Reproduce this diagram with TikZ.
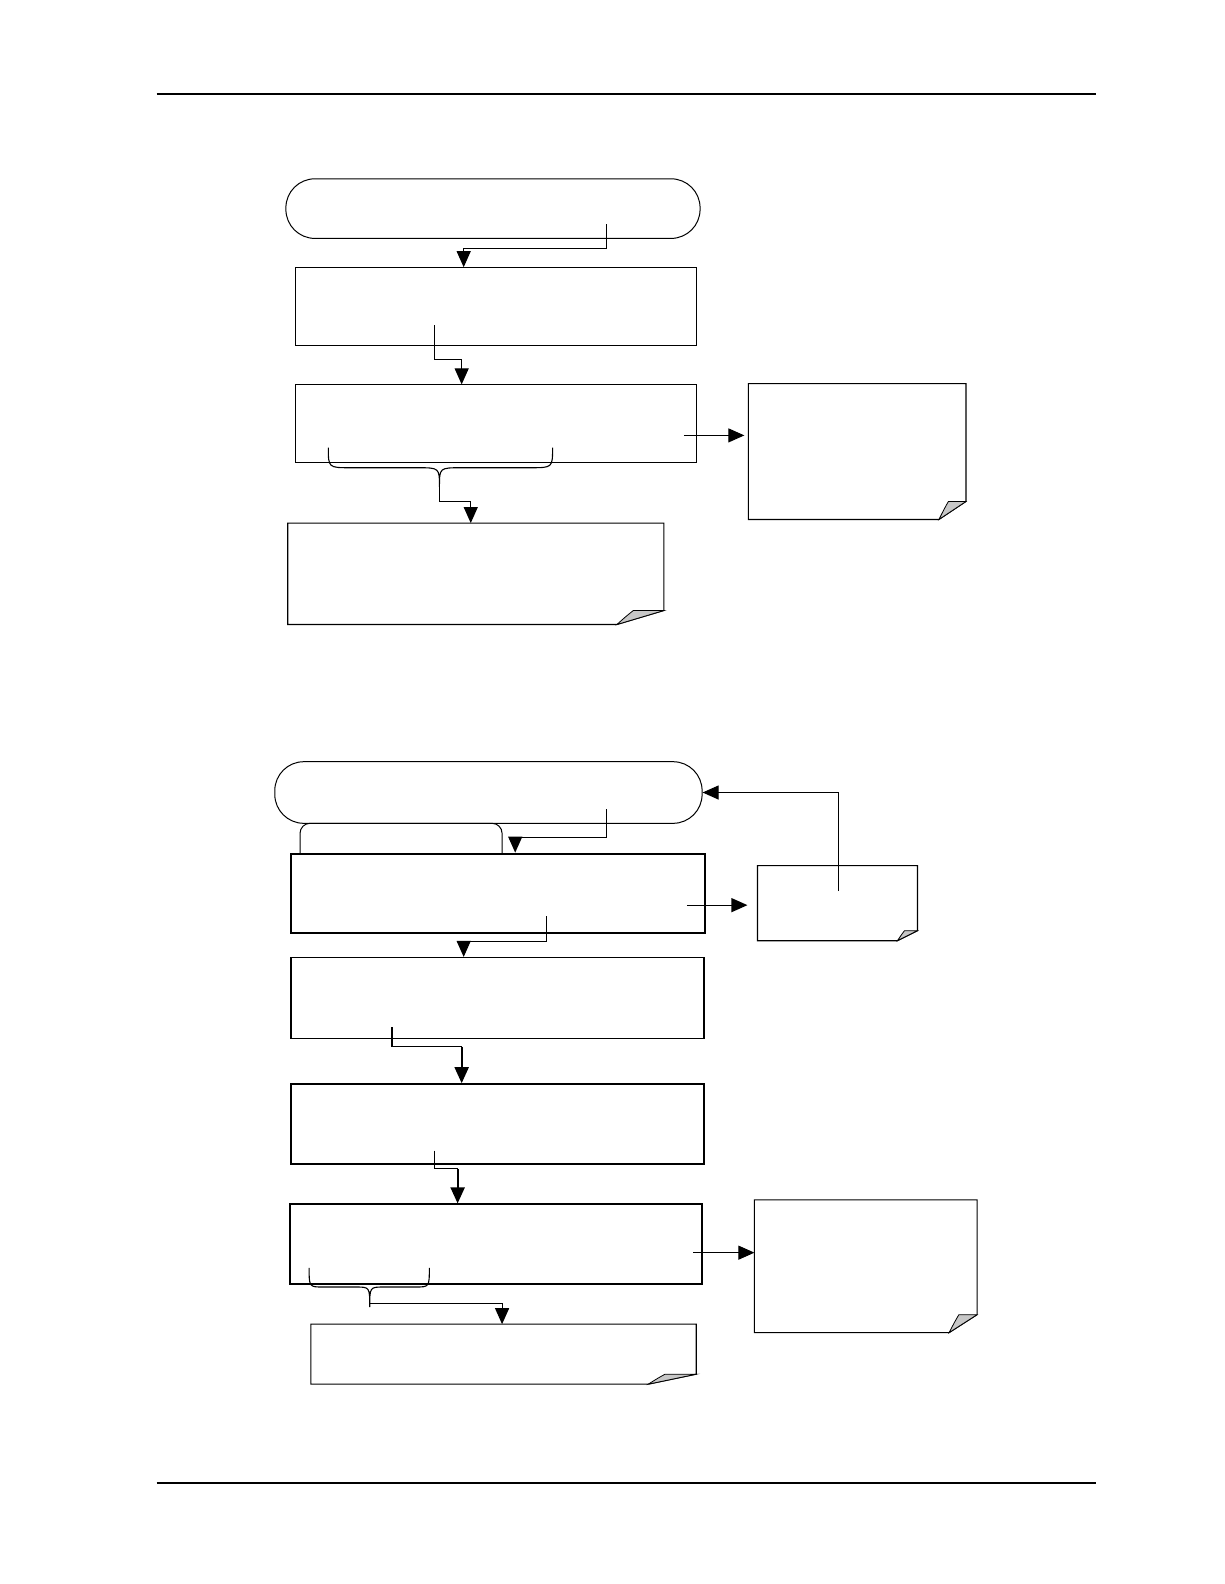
\documentclass[tikz,border=0pt]{standalone}
\usetikzlibrary{arrows.meta,fit}
\tikzset{
  boxthin/.style={draw, line width=1pt, inner sep=0pt},
  boxthick/.style={draw, line width=2pt, inner sep=0pt},
  boxmid/.style={draw, line width=1.5pt, inner sep=0pt},
  termbox/.style={draw, line width=1pt, inner sep=0pt, rounded corners=29pt},
  holder/.style={inner sep=0pt},
  noteline/.style={draw, line width=1.1pt},
  fold/.style={draw, line width=0.8pt, fill=black!22},
  arr/.style={draw, line width=1.1pt, -{Triangle[length=16pt,width=14pt]}},
  arrthick/.style={draw, line width=2pt, -{Triangle[length=16pt,width=14pt]}},
  conn/.style={draw, line width=1.1pt},
}
\newcommand\papernote[3]{%
  \draw[noteline] (#1.north west) -- (#1.north east) -- ([yshift=#3pt]#1.south east) -- ([xshift=-#2pt]#1.south east) -- (#1.south west) -- cycle;
  \filldraw[fold] ([xshift=-#2pt]#1.south east) .. controls ([xshift=-0.8*#2pt, yshift=0.6*#3pt]#1.south east) .. ([xshift=-0.65*#2pt, yshift=#3pt]#1.south east) -- ([yshift=#3pt]#1.south east) -- cycle;}
\begin{document}
\begin{tikzpicture}[x=1.0099pt,y=-1.0099pt]
\useasboundingbox (0,0) rectangle (1212,1568);
% header / footer
\draw[line width=1.2pt] (155,93) -- (1085,93);
\draw[line width=1.2pt] (155,1468) -- (1085,1468);

% ---------- first diagram ----------
\node[termbox, fit={(283,177) (693,236)}] (t1) {};
\node[boxthin, fit={(293,265) (689,342)}] (b2) {};
\node[boxthin, fit={(293,381) (689,458)}] (b3) {};
\node[holder, fit={(741,380) (956,514)}] (n1) {};
\node[holder, fit={(285,518) (657,618)}] (n2) {};
\papernote{n1}{27}{18}
\papernote{n2}{47}{14}

\coordinate (s1) at (600,222);
\coordinate (j1) at (459,246);
\draw[arr] (s1) |- (j1) -- (j1 |- b2.north);

\coordinate (s2) at (430,322);
\coordinate (j2) at (457,356);
\draw[arr] (s2) |- (j2) -- (j2 |- b3.north);

\coordinate (s3) at (677,431);
\draw[arr, shorten >=4pt] (s3) -- (s3 -| n1.west);

% brace 1
\draw[conn] (325,443) .. controls (325,463) .. (347,463) -- (413,463)
  .. controls (435,463) .. (435,482) .. controls (435,463) .. (457,463)
  -- (525,463) .. controls (547,463) .. (547,443);
\coordinate (bt1) at (435,478);
\coordinate (j3) at (466,496);
\draw[arr] (bt1) |- (j3) -- (j3 |- n2.north);

% ---------- second diagram ----------
\node[termbox, fit={(272,754) (695,815)}] (t2) {};
\draw[line width=1pt, rounded corners=10pt] (297,845) -- (297,815) -- (497,815) -- (497,845);
\node[boxthick, fit={(288,845) (698,924)}] (b4) {};
\node[holder, fit={(750,857) (908,931)}] (n3) {};
\papernote{n3}{20}{10}
\node[boxmid, fit={(288,948) (697,1028)}] (b5) {};
\node[boxmid, fit={(288,1073) (697,1152)}] (b6) {};
\node[boxmid, fit={(287,1192) (695,1271)}] (b7) {};
\node[holder, fit={(747,1188) (967,1319)}] (n4) {};
\node[holder, fit={(308,1311) (689,1370)}] (n5) {};
\papernote{n4}{28}{18}
\papernote{n5}{48}{10}

\coordinate (s4) at (600,801);
\coordinate (j4) at (510,829);
\draw[arr] (s4) |- (j4) -- (j4 |- b4.north);

\coordinate (s5) at (680,896);
\draw[arr, shorten >=10pt] (s5) -- (s5 -| n3.west);

\coordinate (fb) at (830,882);
\draw[arr] (fb) |- (t2.east);

\coordinate (s6) at (541,907);
\coordinate (j6) at (459,932);
\draw[arr] (s6) |- (j6) -- (j6 |- b5.north);

\coordinate (s7) at (388,1017);
\coordinate (j7) at (457,1036);
\draw[conn] (s7) |- (j7);
\draw[arrthick] (j7) -- (j7 |- b6.north);

\coordinate (s8) at (430,1139);
\coordinate (j8) at (453,1157);
\draw[conn] (s8) |- (j8);
\draw[arrthick] (j8) -- (j8 |- b7.north);

\coordinate (s9) at (686,1240);
\draw[arr] (s9) -- (s9 -| n4.west);

% brace 2
\draw[conn] (306,1255) .. controls (306,1274) .. (320,1274) -- (352,1274)
  .. controls (366,1274) .. (366,1294) .. controls (366,1274) .. (380,1274)
  -- (411,1274) .. controls (425,1274) .. (425,1255);
\coordinate (bt2) at (366,1290);
\coordinate (j9) at (497,1290);
\draw[arr] (bt2) -- (j9) -- (j9 |- n5.north);
\end{tikzpicture}
\end{document}
